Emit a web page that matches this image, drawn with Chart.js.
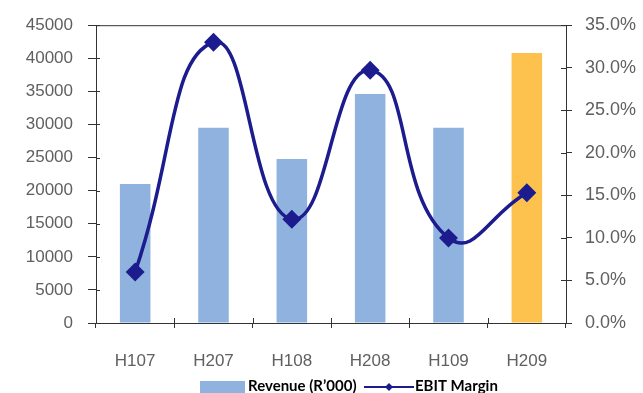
<!DOCTYPE html>
<html>
<head>
<meta charset="utf-8">
<script src="https://cdn.jsdelivr.net/npm/chart.js@4/dist/chart.umd.min.js"></script>
<style>
  html, body { margin: 0; padding: 0; background: #ffffff; }
  #wrap { width: 643px; height: 393px; position: relative; }
</style>
</head>
<body>
<div id="wrap"><canvas id="chart" width="643" height="393"></canvas></div>
<script>
// Half-year periods
const categories = ['H107', 'H207', 'H108', 'H208', 'H109', 'H209'];
// Revenue in R'000
const revenue = [21000, 29500, 24800, 34600, 29500, 40800];
// EBIT margin in percent
const ebitMargin = [6.0, 33.0, 12.2, 29.7, 10.0, 15.3];
// Axis tick values
const revenueTicks = [0, 5000, 10000, 15000, 20000, 25000, 30000, 35000, 40000, 45000];
const marginTicks = [0, 5, 10, 15, 20, 25, 30, 35];

const BLUE = '#8fb3de';
const ORANGE = '#fcc24d';
const NAVY = '#1c1c8e';
const AXIS = '#333333';
const TICK_TEXT = '#606060';

// Frame line along the top of the plot, short inner tick marks, and the legend row
const decorations = {
  id: 'decorations',
  afterDraw(chart) {
    const { ctx, chartArea: a, scales } = chart;
    ctx.save();
    ctx.strokeStyle = AXIS;
    ctx.lineWidth = 1;
    ctx.beginPath();
    ctx.moveTo(a.left, a.top + 0.5);
    ctx.lineTo(a.right, a.top + 0.5);
    // inner halves of the tick marks
    scales.y.ticks.forEach((t, i) => {
      const py = Math.round(scales.y.getPixelForTick(i)) + 0.5;
      ctx.moveTo(a.left, py); ctx.lineTo(a.left + 4, py);
    });
    scales.y1.ticks.forEach((t, i) => {
      const py = Math.round(scales.y1.getPixelForTick(i)) + 0.5;
      ctx.moveTo(a.right, py); ctx.lineTo(a.right - 5, py);
    });
    for (let i = 1; i < categories.length; i++) {
      const px = Math.round((scales.x.getPixelForValue(i - 1) + scales.x.getPixelForValue(i)) / 2) + 0.5;
      ctx.moveTo(px, a.bottom); ctx.lineTo(px, a.bottom - 5);
    }
    ctx.stroke();

    // legend: bar series first, then the line series
    const ds = chart.data.datasets;
    const barDs = ds.find(d => d.type === 'bar');
    const lineDs = ds.find(d => d.type === 'line');
    const y = 386;
    ctx.font = 'bold 15px Lato, "DejaVu Sans", sans-serif';
    ctx.textBaseline = 'middle';
    ctx.fillStyle = BLUE;
    ctx.fillRect(200, 381, 45, 14);
    ctx.fillStyle = '#000000';
    ctx.textAlign = 'left';
    ctx.fillText(barDs.label, 248, y);
    ctx.strokeStyle = NAVY;
    ctx.lineWidth = 2;
    ctx.beginPath();
    ctx.moveTo(364, y + 1); ctx.lineTo(414, y + 1);
    ctx.stroke();
    ctx.fillStyle = NAVY;
    ctx.beginPath();
    ctx.moveTo(389, y - 3); ctx.lineTo(393, y + 1); ctx.lineTo(389, y + 5); ctx.lineTo(385, y + 1);
    ctx.closePath(); ctx.fill();
    ctx.fillStyle = '#000000';
    ctx.fillText(lineDs.label, 415, y);
    ctx.restore();
  }
};

const tickFont = { family: '"Liberation Sans", Arial, sans-serif', size: 17 };

new Chart(document.getElementById('chart'), {
  data: {
    labels: categories,
    datasets: [
      {
        type: 'line',
        label: 'EBIT Margin',
        data: ebitMargin,
        yAxisID: 'y1',
        borderColor: NAVY,
        backgroundColor: NAVY,
        borderWidth: 3.5,
        tension: 0.5,
        pointStyle: 'rectRot',
        pointRadius: 7,
        pointHoverRadius: 7,
        order: 0
      },
      {
        type: 'bar',
        label: 'Revenue (R\u2019000)',
        data: revenue,
        yAxisID: 'y',
        backgroundColor: ctx => ctx.dataIndex === categories.length - 1 ? ORANGE : BLUE,
        categoryPercentage: 1,
        barPercentage: 0.39,
        order: 1
      }
    ]
  },
  options: {
    responsive: false,
    animation: false,
    layout: { padding: { top: 25, left: 0, right: 0, bottom: 0 } },
    plugins: { legend: { display: false }, tooltip: { enabled: false } },
    scales: {
      x: {
        offset: true,
        grid: { display: true, drawOnChartArea: false, offset: true, tickLength: 5, color: AXIS },
        border: { color: AXIS, width: 1 },
        ticks: { color: TICK_TEXT, font: tickFont, padding: 23, maxRotation: 0 },
        afterFit(scale) { scale.height = 70; }
      },
      y: {
        position: 'left',
        min: 0, max: 45000,
        afterBuildTicks(scale) { scale.ticks = revenueTicks.map(v => ({ value: v })); },
        grid: { display: true, drawOnChartArea: false, tickLength: 8, color: AXIS },
        border: { color: AXIS, width: 1 },
        ticks: { color: TICK_TEXT, font: tickFont, padding: 15, callback: v => String(v) },
        afterFit(scale) { scale.width = 96; }
      },
      y1: {
        position: 'right',
        min: 0, max: 35,
        afterBuildTicks(scale) { scale.ticks = marginTicks.map(v => ({ value: v })); },
        grid: { display: true, drawOnChartArea: false, tickLength: 6, color: AXIS },
        border: { color: AXIS, width: 1 },
        ticks: { color: TICK_TEXT, font: { family: tickFont.family, size: 18 }, padding: 13, callback: v => v.toFixed(1) + '%' },
        afterFit(scale) { scale.width = 77; }
      }
    }
  },
  plugins: [decorations]
});
</script>
</body>
</html>
